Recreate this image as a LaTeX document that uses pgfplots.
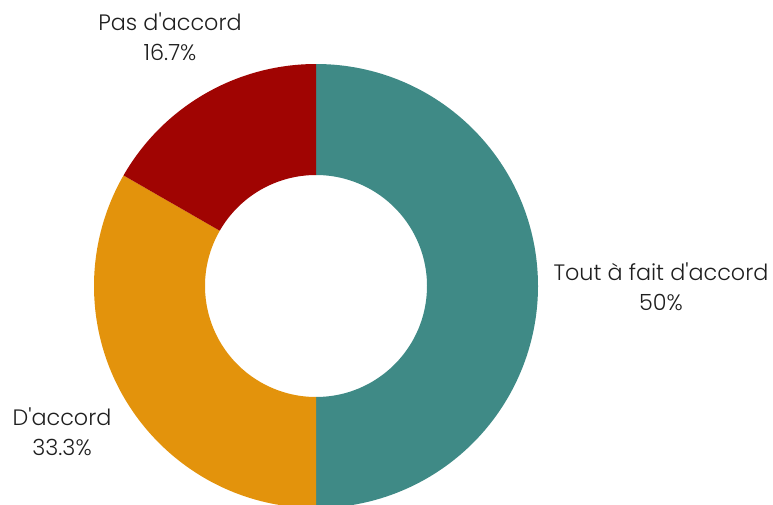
\documentclass[border=0pt]{standalone}
\usepackage{pgfplots}
\usepackage{pgfplotstable}
\pgfplotsset{compat=1.18}
\usepackage{fontspec}
\newfontfamily\lblfont{Poppins Light}
\definecolor{cteal}{HTML}{3F8A86}
\definecolor{corange}{HTML}{E3930C}
\definecolor{cred}{HTML}{A00402}
\pgfplotstableread{
value
50
33.3
16.7
}\datatable
\begin{document}
\begin{tikzpicture}
\begin{axis}[hide axis, x=1pt, y=1pt, xmin=0, xmax=773, ymin=0, ymax=504,
  scale only axis, clip=true]
\path (axis cs:0,0) rectangle (axis cs:773,504);
\def\cx{316}\def\cy{218}\def\Ro{222pt}\def\Ri{111pt}
\pgfmathsetmacro{\angA}{90}
\foreach \i/\col in {0/cteal,1/corange,2/cred}{
  \pgfplotstablegetelem{\i}{value}\of\datatable
  \pgfmathsetmacro{\sweep}{\pgfplotsretval*3.6}
  \pgfmathsetmacro{\angB}{\angA-\sweep}
  \edef\temp{\noexpand\fill[\col] ([shift={(\angA:\Ro)}]axis cs:\cx,\cy) arc[start angle=\angA, end angle=\angB, radius=\Ro] -- ([shift={(\angB:\Ri)}]axis cs:\cx,\cy) arc[start angle=\angB, end angle=\angA, radius=\Ri] -- cycle;}
  \temp
  \global\let\angA\angB
}
\tikzset{lbl/.style={align=center, font=\lblfont\fontsize{22.3}{30}\selectfont, text=black!88, inner sep=0pt}}
\node[lbl] at (axis cs:170,467) {Pas d'accord\\16.7\%};
\node[lbl] at (axis cs:661,217) {Tout à fait d'accord\\50\%};
\node[lbl] at (axis cs:62,72) {D'accord\\33.3\%};
\end{axis}
\end{tikzpicture}
\end{document}
